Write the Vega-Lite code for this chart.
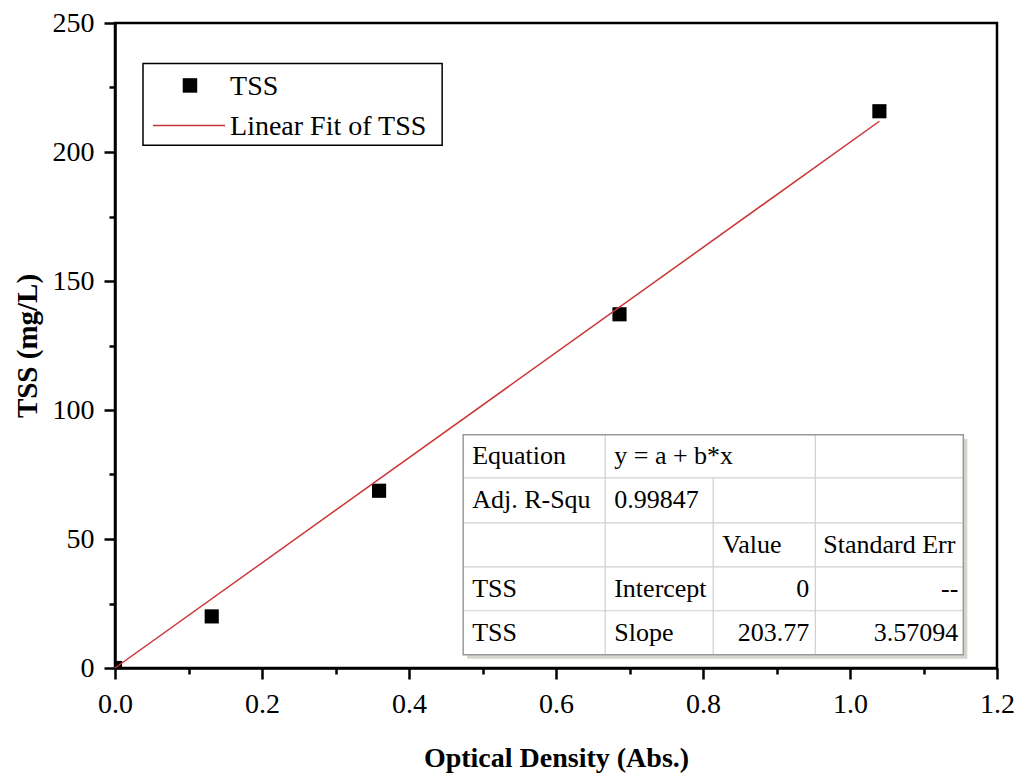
{
  "$schema": "https://vega.github.io/schema/vega-lite/v6.json",
  "width": 882,
  "height": 645,
  "autosize": {"type": "none"},
  "padding": {"left": 115, "top": 23, "right": 25, "bottom": 105},
  "background": "white",
  "config": {
    "view": {"stroke": "black", "strokeWidth": 2.5},
    "font": "Liberation Serif"
  },
  "datasets": {
    "points": [
      {"od": 0.0, "tss": 0.0},
      {"od": 0.1316, "tss": 20.0},
      {"od": 0.3593, "tss": 68.7},
      {"od": 0.6864, "tss": 137.1},
      {"od": 1.04, "tss": 215.8}
    ],
    "fit": [
      {"od": 0.0, "tss": 0.0},
      {"od": 1.04, "tss": 211.92}
    ],
    "tableBox": [
      {"od": 0.4737, "od2": 1.1542, "tss": 5.15, "tss2": 90.36}
    ],
    "tableRows": [
      {"od": 0.4737, "od2": 1.1542, "tss": 73.70},
      {"od": 0.4737, "od2": 1.1542, "tss": 56.28},
      {"od": 0.4737, "od2": 1.1542, "tss": 39.23},
      {"od": 0.4737, "od2": 1.1542, "tss": 22.19}
    ],
    "tableCols": [
      {"od": 0.6669, "tss": 5.15, "tss2": 90.36},
      {"od": 0.8139, "tss": 5.15, "tss2": 73.70},
      {"od": 0.9528, "tss": 5.15, "tss2": 90.36}
    ],
    "cellsLeft": [
      {"od": 0.4859, "tss": 82.03, "label": "Equation"},
      {"od": 0.6792, "tss": 82.03, "label": "y = a + b*x"},
      {"od": 0.4859, "tss": 64.99, "label": "Adj. R-Squ"},
      {"od": 0.6792, "tss": 64.99, "label": "0.99847"},
      {"od": 0.8263, "tss": 47.76, "label": "Value"},
      {"od": 0.9637, "tss": 47.76, "label": "Standard Err"},
      {"od": 0.4859, "tss": 30.71, "label": "TSS"},
      {"od": 0.6792, "tss": 30.71, "label": "Intercept"},
      {"od": 0.4859, "tss": 13.67, "label": "TSS"},
      {"od": 0.6792, "tss": 13.67, "label": "Slope"}
    ],
    "cellsRight": [
      {"od": 0.9446, "tss": 30.71, "label": "0"},
      {"od": 1.1474, "tss": 30.71, "label": "--"},
      {"od": 0.9446, "tss": 13.67, "label": "203.77"},
      {"od": 1.1474, "tss": 13.67, "label": "3.57094"}
    ],
    "legendBox": [
      {"od": 0.0381, "od2": 0.4451, "tss": 202.6, "tss2": 234.3}
    ],
    "legendSymbol": [
      {"od": 0.102, "tss": 225.8}
    ],
    "legendLine": [
      {"od": 0.0517, "od2": 0.1497, "tss": 210.3}
    ],
    "legendText": [
      {"od": 0.1565, "tss": 225.2, "label": "TSS"},
      {"od": 0.1565, "tss": 209.6, "label": "Linear Fit of TSS"}
    ]
  },
  "encoding": {
    "x": {
      "field": "od",
      "type": "quantitative",
      "title": "Optical Density (Abs.)",
      "scale": {"domain": [0, 1.2], "nice": false, "zero": false},
      "axis": {
        "values": [0, 0.1, 0.2, 0.3, 0.4, 0.5, 0.6, 0.7, 0.8, 0.9, 1.0, 1.1, 1.2],
        "labelExpr": "round(datum.value * 10) % 2 == 0 ? format(datum.value, '.1f') : ''",
        "tickSize": {"condition": {"test": "round(datum.value * 10) % 2 == 0", "value": 11}, "value": 6},
        "grid": false,
        "domainColor": "black",
        "domainWidth": 2.5,
        "tickColor": "black",
        "tickWidth": 2.5,
        "labelFont": "Liberation Serif",
        "labelFontSize": 28,
        "labelColor": "black",
        "labelPadding": 11,
        "labelFlush": false,
        "labelOverlap": false,
        "titleFont": "Liberation Serif",
        "titleFontSize": 28,
        "titleFontWeight": "bold",
        "titleColor": "black",
        "titlePadding": 26
      }
    },
    "y": {
      "field": "tss",
      "type": "quantitative",
      "title": "TSS (mg/L)",
      "scale": {"domain": [0, 250], "nice": false, "zero": false},
      "axis": {
        "values": [0, 25, 50, 75, 100, 125, 150, 175, 200, 225, 250],
        "labelExpr": "datum.value % 50 == 0 ? datum.value : ''",
        "tickSize": {"condition": {"test": "datum.value % 50 == 0", "value": 11}, "value": 6},
        "grid": false,
        "domainColor": "black",
        "domainWidth": 2.5,
        "tickColor": "black",
        "tickWidth": 2.5,
        "labelFont": "Liberation Serif",
        "labelFontSize": 28,
        "labelColor": "black",
        "labelPadding": 10,
        "labelFlush": false,
        "labelOverlap": false,
        "titleFont": "Liberation Serif",
        "titleFontSize": 29,
        "titleFontWeight": "bold",
        "titleColor": "black",
        "titlePadding": 10
      }
    }
  },
  "layer": [
    {
      "data": {"name": "tableBox"},
      "mark": {"type": "rect", "fill": "#d6d6cf", "xOffset": 4, "x2Offset": 4, "yOffset": 4, "y2Offset": 4},
      "encoding": {"x2": {"field": "od2"}, "y2": {"field": "tss2"}}
    },
    {
      "data": {"name": "tableBox"},
      "mark": {"type": "rect", "fill": "white"},
      "encoding": {"x2": {"field": "od2"}, "y2": {"field": "tss2"}}
    },
    {
      "data": {"name": "tableRows"},
      "mark": {"type": "rule", "stroke": "#cfcfcf", "strokeWidth": 1.2},
      "encoding": {"x2": {"field": "od2"}}
    },
    {
      "data": {"name": "tableCols"},
      "mark": {"type": "rule", "stroke": "#cfcfcf", "strokeWidth": 1.2},
      "encoding": {"y2": {"field": "tss2"}}
    },
    {
      "data": {"name": "tableBox"},
      "mark": {"type": "rect", "fill": null, "stroke": "#999999", "strokeWidth": 1.5},
      "encoding": {"x2": {"field": "od2"}, "y2": {"field": "tss2"}}
    },
    {
      "data": {"name": "cellsLeft"},
      "mark": {"type": "text", "align": "left", "baseline": "middle", "font": "Liberation Serif", "fontSize": 26, "color": "black"},
      "encoding": {"text": {"field": "label"}}
    },
    {
      "data": {"name": "cellsRight"},
      "mark": {"type": "text", "align": "right", "baseline": "middle", "font": "Liberation Serif", "fontSize": 26, "color": "black"},
      "encoding": {"text": {"field": "label"}}
    },
    {
      "data": {"name": "legendBox"},
      "mark": {"type": "rect", "fill": "white", "stroke": "black", "strokeWidth": 1.5},
      "encoding": {"x2": {"field": "od2"}, "y2": {"field": "tss2"}}
    },
    {
      "data": {"name": "legendSymbol"},
      "mark": {"type": "point", "shape": "square", "filled": true, "color": "black", "opacity": 1, "size": 210},
      "encoding": {}
    },
    {
      "data": {"name": "legendLine"},
      "mark": {"type": "rule", "stroke": "#cc3333", "strokeWidth": 1.5},
      "encoding": {"x2": {"field": "od2"}}
    },
    {
      "data": {"name": "legendText"},
      "mark": {"type": "text", "align": "left", "baseline": "middle", "font": "Liberation Serif", "fontSize": 28, "color": "black"},
      "encoding": {"text": {"field": "label"}}
    },
    {
      "data": {"name": "points"},
      "mark": {"type": "point", "shape": "square", "filled": true, "color": "black", "opacity": 1, "size": 200, "clip": true},
      "encoding": {}
    },
    {
      "data": {"name": "fit"},
      "mark": {"type": "line", "stroke": "#cc3333", "strokeWidth": 1.5},
      "encoding": {}
    }
  ]
}
